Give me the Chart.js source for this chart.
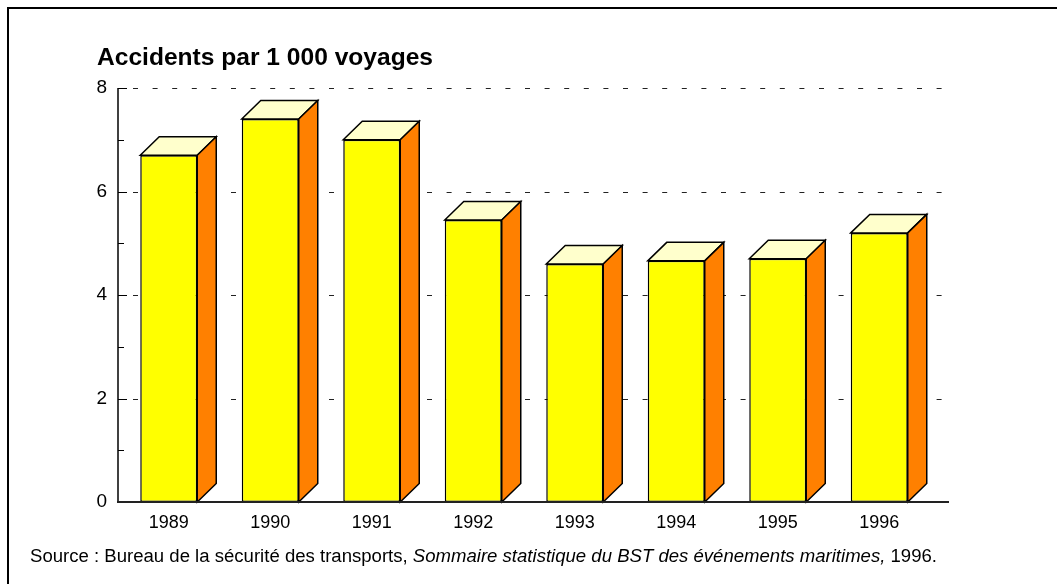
<!DOCTYPE html>
<html>
<head>
<meta charset="utf-8">
<script src="https://cdn.jsdelivr.net/npm/chart.js@4/dist/chart.umd.min.js"></script>
<style>
  html, body { margin: 0; padding: 0; background: #fff; }
  #wrap { position: relative; width: 1057px; height: 584px; overflow: hidden; font-family: Arial, "Liberation Sans", sans-serif; }
  #frame { position: absolute; left: 7px; top: 7px; width: 1100px; height: 640px; border-left: 2px solid #000; border-top: 2px solid #000; box-sizing: border-box; }
  #chartBox { position: absolute; left: 0; top: 0; width: 1057px; height: 584px; }
  #title { position: absolute; left: 97px; top: 45px; font-weight: bold; font-size: 23px; line-height: 24px; white-space: nowrap; transform-origin: left top; color: #000; }
  #source { position: absolute; left: 30px; top: 546px; font-size: 18px; line-height: 20px; white-space: nowrap; transform-origin: left top; color: #000; }
</style>
</head>
<body>
<div id="wrap">
  <div id="frame"></div>
  <div id="chartBox"><canvas id="c"></canvas></div>
  <div id="title">Accidents par 1 000 voyages</div>
  <div id="source">Source : Bureau de la sécurité des transports, <i>Sommaire statistique du BST des événements maritimes,</i> 1996.</div>
</div>
<script>
// ---- data ----
const categories = ['1989', '1990', '1991', '1992', '1993', '1994', '1995', '1996'];
const values = [6.7, 7.4, 7.0, 5.45, 4.6, 4.66, 4.7, 5.2];
const yTickValues = [0, 2, 4, 6, 8];
const yMinorTickValues = [1, 3, 5, 7];

// ---- text fitting ----
function fitWidth(id, target) {
  const el = document.getElementById(id);
  const w = el.getBoundingClientRect().width;
  el.style.transform = 'scaleX(' + (target / w) + ')';
}
fitWidth('title', 336);
fitWidth('source', 907);

const DX = 19, DY = 18.5;

const bar3d = {
  id: 'bar3d',
  beforeDatasetsDraw(chart) {
    const ctx = chart.ctx;
    const ys = chart.scales.y;
    const area = chart.chartArea;
    ctx.save();
    // dashed grid lines
    ctx.strokeStyle = '#222';
    ctx.lineWidth = 1;
    ctx.setLineDash([5, 14.6]);
    yTickValues.forEach(v => {
      if (v === 0) return;
      const py = Math.round(ys.getPixelForValue(v)) + 0.5;
      ctx.beginPath();
      ctx.moveTo(area.left + 15, py);
      ctx.lineTo(area.right + 13, py);
      ctx.stroke();
    });
    ctx.setLineDash([]);
    // ticks (inward)
    ctx.strokeStyle = '#000';
    yTickValues.forEach(v => {
      const py = Math.round(ys.getPixelForValue(v)) + 0.5;
      ctx.beginPath();
      ctx.moveTo(area.left, py);
      ctx.lineTo(area.left + 9, py);
      ctx.stroke();
    });
    yMinorTickValues.forEach(v => {
      const py = Math.round(ys.getPixelForValue(v)) + 0.5;
      ctx.beginPath();
      ctx.moveTo(area.left, py);
      ctx.lineTo(area.left + 6, py);
      ctx.stroke();
    });
    ctx.restore();
  },
  afterDatasetsDraw(chart) {
    const ctx = chart.ctx;
    const area = chart.chartArea;
    const meta = chart.getDatasetMeta(0);
    ctx.save();
    ctx.lineWidth = 1.5;
    ctx.strokeStyle = '#000';
    ctx.lineJoin = 'miter';
    meta.data.forEach(el => {
      const p = el.getProps(['x', 'y', 'base', 'width'], true);
      const l = p.x - p.width / 2, r = p.x + p.width / 2;
      // top face
      ctx.beginPath();
      ctx.moveTo(l, p.y);
      ctx.lineTo(l + DX, p.y - DY);
      ctx.lineTo(r + DX, p.y - DY);
      ctx.lineTo(r, p.y);
      ctx.closePath();
      ctx.fillStyle = '#FFFFCC';
      ctx.fill();
      ctx.stroke();
      // side face
      ctx.beginPath();
      ctx.moveTo(r, p.y);
      ctx.lineTo(r + DX, p.y - DY);
      ctx.lineTo(r + DX, p.base - DY);
      ctx.lineTo(r, p.base);
      ctx.closePath();
      ctx.fillStyle = '#FF8000';
      ctx.fill();
      ctx.stroke();
    });
    // axis lines
    ctx.lineWidth = 1.5;
    ctx.beginPath();
    ctx.moveTo(area.left, area.top);
    ctx.lineTo(area.left, area.bottom);
    ctx.stroke();
    ctx.lineWidth = 2;
    ctx.strokeStyle = '#222';
    ctx.beginPath();
    ctx.moveTo(area.left - 1, area.bottom);
    ctx.lineTo(area.right + 19, area.bottom);
    ctx.stroke();
    ctx.restore();
  }
};

Chart.defaults.font.family = 'Arial, "Liberation Sans", sans-serif';
Chart.defaults.color = '#000';

new Chart(document.getElementById('c'), {
  type: 'bar',
  data: {
    labels: categories,
    datasets: [{
      data: values,
      backgroundColor: '#FFFF00',
      borderColor: '#000',
      borderWidth: 1.5,
      borderSkipped: false,
      barPercentage: 0.5616,
      categoryPercentage: 1.0
    }]
  },
  options: {
    responsive: true,
    maintainAspectRatio: false,
    animation: false,
    events: [],
    layout: { padding: { left: 0, top: 88, right: 127, bottom: 0 } },
    plugins: { legend: { display: false }, title: { display: false }, tooltip: { enabled: false } },
    scales: {
      x: {
        grid: { display: false, drawTicks: false },
        border: { display: false },
        ticks: { font: { size: 18 }, padding: 10, maxRotation: 0, autoSkip: false },
        afterFit(scale) { scale.height = 82; }
      },
      y: {
        min: 0, max: 8,
        grid: { display: false, drawTicks: false },
        border: { display: false },
        ticks: { stepSize: 2, font: { size: 19 }, padding: 11 },
        afterFit(scale) { scale.width = 118; }
      }
    }
  },
  plugins: [bar3d]
});
</script>
</body>
</html>
